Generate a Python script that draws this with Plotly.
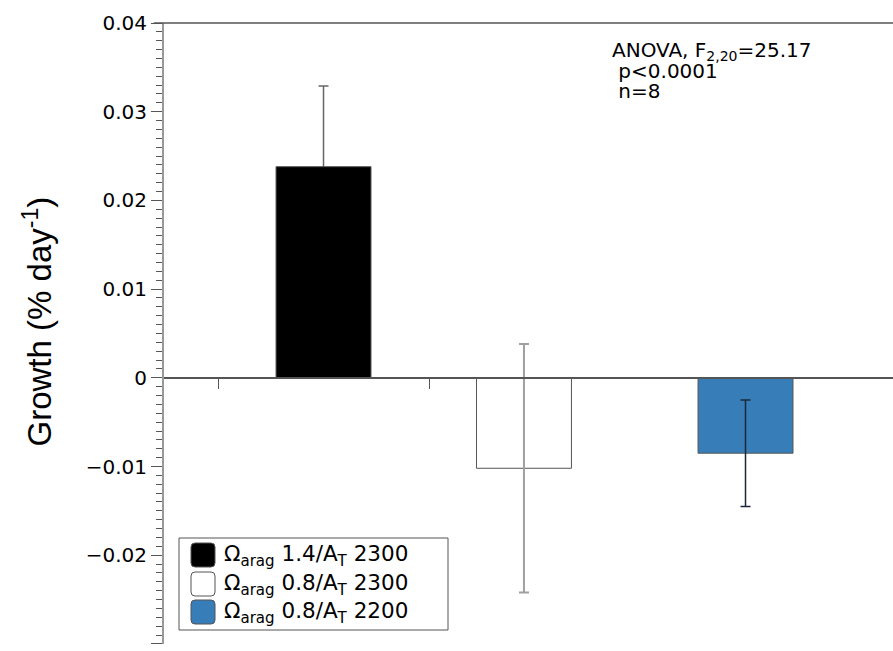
import plotly.graph_objects as go

# Treatment means and SDs of growth (% per day)
treatments = ["Ω<sub>arag</sub> 1.4/A<sub>T</sub> 2300",
              "Ω<sub>arag</sub> 0.8/A<sub>T</sub> 2300",
              "Ω<sub>arag</sub> 0.8/A<sub>T</sub> 2200"]
x_pos = [1.0, 1.95, 3.0]
growth = [0.0238, -0.0102, -0.0085]
growth_sd = [0.0091, 0.0140, 0.0060]

fill_colors = ["#000000", "#ffffff", "#377eb8"]
err_colors = ["#666666", "#a0a0a0", "#1b2838"]
err_widths = [1.5, 2.0, 1.5]

stats_lines = ["ANOVA, F<sub>2,20</sub>=25.17", " p&lt;0.0001", " n=8"]
y_title = "Growth (% day<sup>-1</sup>)"

FONT = "DejaVu Sans, sans-serif"
TITLE_FONT = "Liberation Sans, Arial, sans-serif"

fig = go.Figure()

for i in range(len(growth)):
    if i == 0:
        # error bar drawn underneath the solid bar so only the upper arm shows
        fig.add_trace(go.Bar(
            x=[x_pos[i]], y=[growth[i]], width=0.45,
            marker=dict(color="rgba(0,0,0,0)", line=dict(width=0)),
            error_y=dict(type="data", array=[growth_sd[i]], color=err_colors[i],
                         thickness=err_widths[i], width=5),
            showlegend=False, hoverinfo="skip"))
        fig.add_trace(go.Bar(
            x=[x_pos[i]], y=[growth[i]], width=0.45,
            marker=dict(color=fill_colors[i], line=dict(color="#555555", width=1)),
            showlegend=False))
    else:
        fig.add_trace(go.Bar(
            x=[x_pos[i]], y=[growth[i]], width=0.45,
            marker=dict(color=fill_colors[i], line=dict(color="#555555", width=1)),
            error_y=dict(type="data", array=[growth_sd[i]], color=err_colors[i],
                         thickness=err_widths[i], width=5),
            showlegend=False))

shapes = [
    # top frame line
    dict(type="line", xref="paper", yref="paper", x0=-0.014, x1=1, y0=1, y1=1,
         line=dict(color="#555555", width=1.5)),
    # legend box
    dict(type="rect", xref="paper", yref="paper", xsizemode="pixel", ysizemode="pixel",
         xanchor=0, yanchor=0, x0=15, x1=284, y0=14, y1=106,
         line=dict(color="#555555", width=1), fillcolor="white"),
]
annotations = []
row_y = [89, 60, 32]
r = 4
for i, label in enumerate(treatments):
    cy = row_y[i]
    x0, x1, y0, y1 = 27, 51, cy - 12, cy + 12
    path = (f"M{x0 + r},{y0} L{x1 - r},{y0} Q{x1},{y0} {x1},{y0 + r} "
            f"L{x1},{y1 - r} Q{x1},{y1} {x1 - r},{y1} L{x0 + r},{y1} "
            f"Q{x0},{y1} {x0},{y1 - r} L{x0},{y0 + r} Q{x0},{y0} {x0 + r},{y0} Z")
    shapes.append(dict(type="path", xref="paper", yref="paper",
                       xsizemode="pixel", ysizemode="pixel", xanchor=0, yanchor=0,
                       path=path, fillcolor=fill_colors[i],
                       line=dict(color="#555555", width=1)))
    annotations.append(dict(xref="paper", yref="paper", x=0, y=0, xshift=58, yshift=cy,
                            xanchor="left", yanchor="middle", showarrow=False,
                            text=label, font=dict(family=FONT, size=21.5, color="black")))

for j, line in enumerate(stats_lines):
    annotations.append(dict(xref="paper", yref="paper", x=0, y=1, xshift=446,
                            yshift=-28 - 20 * j, xanchor="left", yanchor="middle",
                            showarrow=False, text=line,
                            font=dict(family=FONT, size=20, color="black")))

# rotated y-axis title
annotations.append(dict(xref="paper", yref="paper", x=0, y=0.5, xshift=-127, yshift=12,
                        xanchor="center", yanchor="middle", textangle=-90,
                        showarrow=False, text=y_title,
                        font=dict(family=TITLE_FONT, size=33, color="black")))

fig.update_layout(
    width=893, height=651,
    margin=dict(l=164, r=0, t=23, b=7),
    paper_bgcolor="white", plot_bgcolor="white",
    barmode="overlay",
    font=dict(family=FONT, color="black"),
    shapes=shapes, annotations=annotations,
    xaxis=dict(range=[0.244, 3.699], anchor="free", position=0.4286,
               showline=True, linecolor="#555555", linewidth=1.5,
               tickmode="array", tickvals=[0.5, 1.5], ticktext=["", ""],
               ticks="outside", ticklen=10, tickcolor="#555555", tickwidth=1,
               showgrid=False, zeroline=False),
    yaxis=dict(range=[-0.03001, 0.04], dtick=0.01, tick0=0,
               showline=True, linecolor="#999999", linewidth=2,
               ticks="outside", ticklen=11, tickcolor="#555555", tickwidth=1,
               minor=dict(dtick=0.001, ticks="outside", ticklen=6,
                          tickcolor="#555555", tickwidth=1),
               tickfont=dict(size=20, family=FONT),
               showgrid=False, zeroline=False),
)

fig.write_html("out.html")
